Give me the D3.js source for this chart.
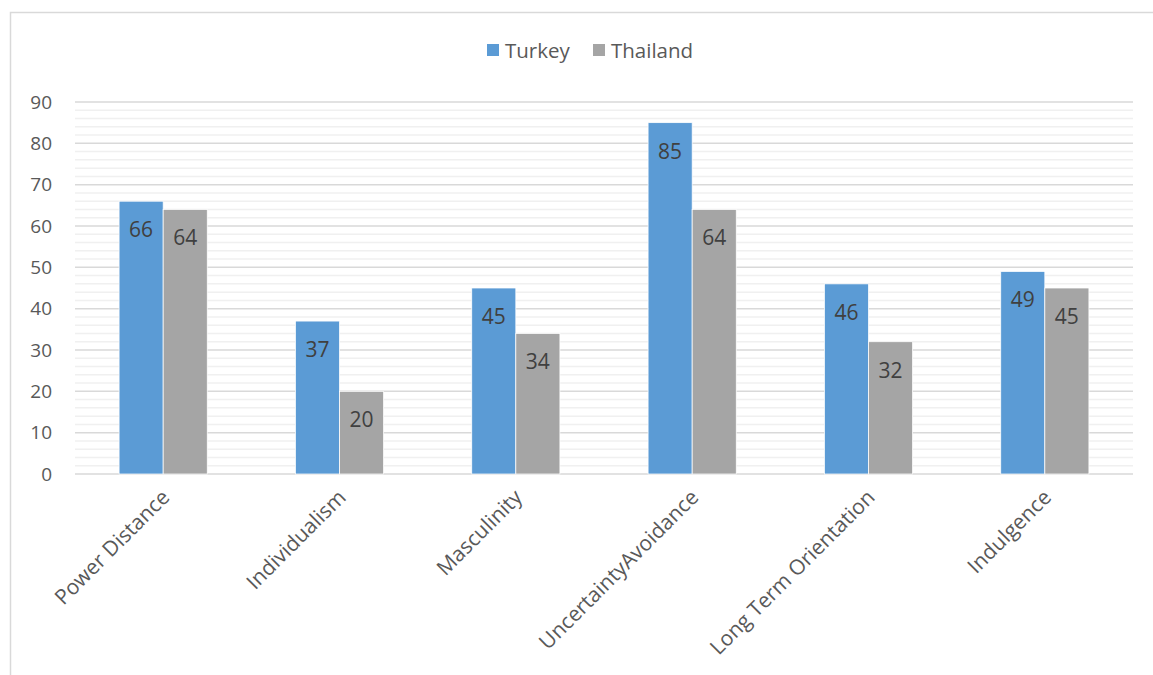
<!DOCTYPE html>
<html>
<head>
<meta charset="utf-8">
<script src="https://cdn.jsdelivr.net/npm/d3@7"></script>
<style>
  html, body { margin: 0; padding: 0; background: #fff; }
  svg text { font-family: "Open Sans", "Noto Sans", sans-serif; }
</style>
</head>
<body>
<svg id="chart" width="1153" height="675"></svg>
<script>
// Hofstede cultural dimensions: Turkey vs Thailand
const categories = ["Power Distance", "Individualism", "Masculinity", "UncertaintyAvoidance", "Long Term Orientation", "Indulgence"];
const seriesNames = ["Turkey", "Thailand"];
const turkey = [66, 37, 45, 85, 46, 49];
const thailand = [64, 20, 34, 64, 32, 45];
const yTicks = [0, 10, 20, 30, 40, 50, 60, 70, 80, 90];
const colors = ["#5b9bd5", "#a5a5a5"];

const svg = d3.select("#chart");
const W = 1153, H = 675;
const plot = { left: 75, right: 1133, top: 102, bottom: 474 };

// chart area frame
svg.append("path")
  .attr("d", `M10.5,${H} V12.5 H${W}`)
  .attr("fill", "none")
  .attr("stroke", "#d9d9d9")
  .attr("stroke-width", 1.5);

const x = d3.scaleBand().domain(categories).range([plot.left, plot.right]).paddingInner(0.5).paddingOuter(0.25);
const xs = d3.scaleBand().domain(seriesNames).range([0, x.bandwidth()]);
const y = d3.scaleLinear().domain([0, 90]).range([plot.bottom, plot.top]);

// minor gridlines every 2
const minor = d3.range(0, 91, 2).filter(v => v % 10 !== 0);
svg.append("g").selectAll("line").data(minor).join("line")
  .attr("x1", plot.left).attr("x2", plot.right)
  .attr("y1", d => y(d)).attr("y2", d => y(d))
  .attr("stroke", "#f0f0f0").attr("stroke-width", 1.5);

// major gridlines
svg.append("g").selectAll("line").data(yTicks).join("line")
  .attr("x1", plot.left).attr("x2", plot.right)
  .attr("y1", d => y(d)).attr("y2", d => y(d))
  .attr("stroke", "#d9d9d9").attr("stroke-width", 1.5);

// y axis labels
const yAxis = d3.axisLeft(y).tickValues(yTicks).tickSize(0).tickPadding(0);
const yg = svg.append("g").attr("transform", `translate(52,0)`).call(yAxis);
yg.select(".domain").remove();
yg.selectAll("text").attr("fill", "#595959").attr("font-size", 19);

// bars
const data = categories.map((c, i) => ({ cat: c, vals: [turkey[i], thailand[i]] }));
const groups = svg.append("g").selectAll("g").data(data).join("g")
  .attr("transform", d => `translate(${x(d.cat)},0)`);

groups.selectAll("rect").data(d => d.vals.map((v, j) => ({ v, s: seriesNames[j], j })))
  .join("rect")
  .attr("x", d => xs(d.s))
  .attr("width", xs.bandwidth())
  .attr("y", d => y(d.v))
  .attr("height", d => y(0) - y(d.v))
  .attr("fill", d => colors[d.j])
  .attr("stroke", "#ffffff").attr("stroke-width", 0.75);

groups.selectAll("text").data(d => d.vals.map((v, j) => ({ v, s: seriesNames[j] })))
  .join("text")
  .attr("x", d => xs(d.s) + xs.bandwidth() / 2)
  .attr("y", d => y(d.v) + 28)
  .attr("text-anchor", "middle")
  .attr("dominant-baseline", "central")
  .attr("font-size", 21)
  .attr("fill", "#404040")
  .text(d => d.v);

// x axis category labels
const xAxis = d3.axisBottom(x).tickSize(0).tickPadding(0);
const xg = svg.append("g").attr("transform", `translate(0,${plot.bottom})`).call(xAxis);
xg.select(".domain").remove();
xg.selectAll("text")
  .attr("fill", "#595959").attr("font-size", 21)
  .attr("text-anchor", "end")
  .attr("dy", null)
  .attr("transform", "translate(2,19) rotate(-45)")
  .attr("dominant-baseline", "central");

// legend
const legend = svg.append("g").attr("transform", "translate(487,50)");
const lx = [0, 106];
seriesNames.forEach((s, i) => {
  const g = legend.append("g").attr("transform", `translate(${lx[i]},0)`);
  g.append("rect").attr("x", 0).attr("y", -6).attr("width", 12).attr("height", 12).attr("fill", colors[i]);
  g.append("text").attr("x", 18).attr("y", 0).attr("dominant-baseline", "central")
    .attr("font-size", 20.5).attr("fill", "#595959").text(s);
});
</script>
</body>
</html>
